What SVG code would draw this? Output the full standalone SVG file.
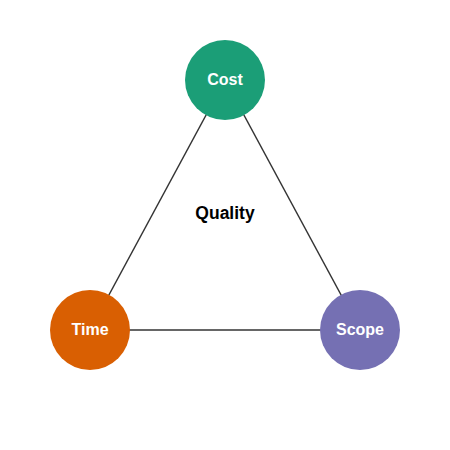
<svg xmlns="http://www.w3.org/2000/svg" width="450" height="450" viewBox="0 0 450 450">
<style>
.edge{stroke:#333;stroke-width:1.5;fill:none}
.node circle{stroke:none}
.lbl{font-family:"Liberation Sans",Arial,sans-serif;font-weight:bold;font-size:16px;fill:#fff;text-anchor:middle;dominant-baseline:central}
.q{font-family:"Liberation Sans",Arial,sans-serif;font-weight:bold;font-size:17.5px;fill:#000;text-anchor:middle;dominant-baseline:central}
</style>
<rect width="450" height="450" fill="#fff"/>
<g id="edges">
<line class="edge" x1="225" y1="80" x2="90" y2="330"/>
<line class="edge" x1="225" y1="80" x2="360" y2="330"/>
<line class="edge" x1="90" y1="330" x2="360" y2="330"/>
</g>
<g id="cost" class="node"><circle cx="225" cy="80" r="40" fill="#1b9e77"/><text class="lbl" x="225" y="79">Cost</text></g>
<g id="time" class="node"><circle cx="90" cy="330" r="40" fill="#d95f02"/><text class="lbl" x="90" y="329">Time</text></g>
<g id="scope" class="node"><circle cx="360" cy="330" r="40" fill="#7570b3"/><text class="lbl" x="360" y="329">Scope</text></g>
<g id="quality"><text class="q" x="225" y="213">Quality</text></g>
</svg>
